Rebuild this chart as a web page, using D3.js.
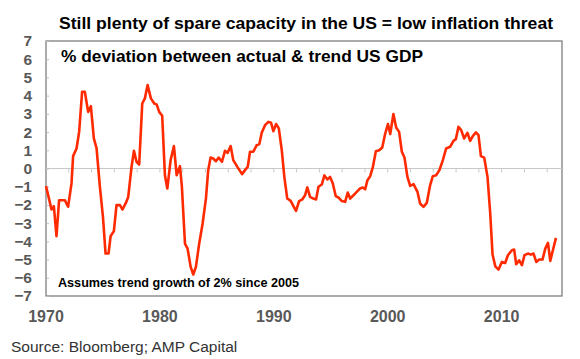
<!DOCTYPE html>
<html>
<head>
<meta charset="utf-8">
<script src="https://cdn.jsdelivr.net/npm/d3@7"></script>
<style>
  body { margin: 0; background: #fff; }
  svg { display: block; font-family: "Liberation Sans", Arial, sans-serif; }
</style>
</head>
<body>
<div id="chart"></div>
<script>
// 读图得到的数据 (年份, 偏离趋势 %)
const years = [
  1970.0, 1970.33, 1970.48, 1970.69, 1970.92, 1971.15, 1971.65, 1971.94, 1972.24, 1972.38,
  1972.68, 1972.91, 1973.17, 1973.41, 1973.7, 1973.94, 1974.2, 1974.44, 1974.73, 1975.0,
  1975.23, 1975.49, 1975.67, 1975.96, 1976.19, 1976.49, 1976.72, 1977.01, 1977.22, 1977.51,
  1977.72, 1977.95, 1978.18, 1978.45, 1978.68, 1978.92, 1979.21, 1979.5, 1979.71, 1979.94,
  1980.2, 1980.44, 1980.65, 1980.94, 1981.23, 1981.47, 1981.76, 1981.93, 1982.2, 1982.43,
  1982.7, 1982.93, 1983.16, 1983.45, 1983.75, 1984.04, 1984.24, 1984.45, 1984.68, 1984.92,
  1985.16, 1985.45, 1985.71, 1985.95, 1986.21, 1986.44, 1986.8, 1987.21, 1987.47, 1987.71,
  1987.91, 1988.2, 1988.5, 1988.73, 1988.94, 1989.23, 1989.52, 1989.76, 1989.96, 1990.2,
  1990.44, 1990.7, 1990.93, 1991.18, 1991.48, 1991.72, 1991.95, 1992.22, 1992.5, 1992.74,
  1992.94, 1993.18, 1993.47, 1993.71, 1993.92, 1994.21, 1994.44, 1994.71, 1994.94, 1995.18,
  1995.44, 1995.67, 1995.97, 1996.26, 1996.49, 1996.7, 1996.99, 1997.28, 1997.57, 1997.81,
  1998.02, 1998.22, 1998.46, 1998.7, 1998.96, 1999.25, 1999.52, 1999.78, 2000.02, 2000.22,
  2000.5, 2000.74, 2001.0, 2001.24, 2001.47, 2001.73, 2001.97, 2002.27, 2002.61, 2002.84,
  2003.14, 2003.43, 2003.72, 2003.96, 2004.25, 2004.54, 2004.84, 2005.13, 2005.48, 2005.77,
  2005.98, 2006.21, 2006.45, 2006.71, 2007.0, 2007.24, 2007.47, 2007.74, 2007.97, 2008.18,
  2008.47, 2008.76, 2009.0, 2009.2, 2009.44, 2009.73, 2010.02, 2010.31, 2010.55, 2010.9,
  2011.1, 2011.28, 2011.54, 2011.78, 2012.01, 2012.31, 2012.57, 2012.8, 2013.04, 2013.3,
  2013.59, 2013.83, 2014.07, 2014.27, 2014.5, 2014.77
];
const gapValues = [
  -0.97, -1.83, -2.25, -2.07, -3.72, -1.74, -1.74, -2.1, -0.82, 0.68,
  1.1, 2.01, 4.21, 4.21, 3.11, 3.42, 1.65, 1.1, -1.0, -2.66,
  -4.67, -4.67, -3.72, -3.44, -2.01, -2.01, -2.25, -1.89, -1.56, 0.09,
  0.97, 0.37, 0.22, 3.57, 3.85, 4.58, 3.85, 3.57, 3.52, 3.11,
  2.9, -0.37, -1.1, 0.46, 1.23, -0.37, 0.13, -1.0, -4.12, -4.4,
  -5.4, -5.82, -5.4, -4.12, -3.02, -1.65, -0.09, 0.6, 0.55, 0.4,
  0.6, 0.37, 0.97, 0.86, 1.23, 0.46, 0.09, -0.31, -0.09, 0.09,
  0.92, 0.92, 1.28, 1.34, 1.96, 2.38, 2.56, 2.51, 2.05, 2.44,
  2.2, 1.0, -0.5, -1.65, -1.78, -2.07, -2.33, -1.79, -1.7, -1.47,
  -1.04, -1.56, -1.65, -1.7, -1.0, -0.88, -0.38, -0.6, -0.46, -0.82,
  -1.52, -1.59, -1.79, -1.83, -1.32, -1.65, -1.47, -1.28, -1.1, -1.04,
  -1.14, -0.64, -0.42, 0.09, 0.95, 1.0, 1.15, 1.92, 2.44, 1.89,
  2.99, 2.25, 2.01, 0.92, 0.6, -0.46, -0.95, -0.86, -1.28, -1.92,
  -2.11, -1.89, -0.92, -0.42, -0.37, -0.09, 0.46, 1.1, 1.19, 1.52,
  1.61, 2.29, 2.11, 1.65, 1.96, 1.52, 1.78, 1.98, 1.83, 0.68,
  0.6, -0.46, -2.47, -4.71, -5.37, -5.55, -5.13, -5.19, -4.76, -4.49,
  -4.45, -5.26, -5.04, -5.31, -4.76, -4.67, -4.73, -4.67, -5.13, -5.0,
  -5.0, -4.4, -4.08, -5.07, -4.49, -3.81
];

const yTicks = d3.range(-7, 8);
const xLabels = [1970, 1980, 1990, 2000, 2010];
const minorTicks = d3.range(1972, 2015, 2);

const titleText = "Still plenty of spare capacity in the US = low inflation threat";
const subtitleText = "% deviation between actual & trend US GDP";
const noteText = "Assumes trend growth of 2% since 2005";
const sourceText = "Source: Bloomberg; AMP Capital";

const width = 580, height = 359;
const plot = { left: 46, right: 562, top: 41, bottom: 296 };

const svg = d3.select("#chart")
    .append("svg")
    .attr("width", width)
    .attr("height", height);

const x = d3.scaleLinear()
    .domain([1970, 2015.3])
    .range([plot.left, plot.right]);

const y = d3.scaleLinear()
    .domain([-7, 7])
    .range([plot.bottom, plot.top]);

// 标题
svg.append("text")
    .attr("x", 59)
    .attr("y", 29)
    .attr("textLength", 494)
    .attr("lengthAdjust", "spacingAndGlyphs")
    .style("font-size", "16.5px")
    .style("font-weight", "bold")
    .style("fill", "#000")
    .text(titleText);

// 绘图框
svg.append("rect")
    .attr("x", plot.left)
    .attr("y", plot.top)
    .attr("width", plot.right - plot.left)
    .attr("height", plot.bottom - plot.top)
    .attr("fill", "none")
    .attr("stroke", "#7f7f7f")
    .attr("stroke-width", 1.3);

// 零线
svg.append("line")
    .attr("x1", plot.left)
    .attr("x2", plot.right)
    .attr("y1", y(0))
    .attr("y2", y(0))
    .attr("stroke", "#c8c8c8")
    .attr("stroke-width", 1);

svg.selectAll(".minor-tick")
    .data(minorTicks)
    .join("line")
    .attr("class", "minor-tick")
    .attr("x1", d => x(d))
    .attr("x2", d => x(d))
    .attr("y1", y(0))
    .attr("y2", y(0) + 4)
    .attr("stroke", "#c8c8c8");

// y 轴
const yAxis = d3.axisLeft(y)
    .tickValues(yTicks)
    .tickSize(-3)
    .tickPadding(14);

const yg = svg.append("g")
    .attr("transform", `translate(${plot.left},0)`)
    .call(yAxis);
yg.select(".domain").remove();
yg.selectAll(".tick line").attr("stroke", "#bdbdbd");
yg.selectAll(".tick text")
    .style("font-size", "15.5px")
    .style("font-weight", "bold")
    .style("fill", "#595959")
    .style("font-family", "'Liberation Sans', Arial, sans-serif");

// x 轴标签
svg.selectAll(".x-label")
    .data(xLabels)
    .join("text")
    .attr("class", "x-label")
    .attr("x", d => x(d))
    .attr("y", 322)
    .attr("text-anchor", "middle")
    .style("font-size", "16px")
    .style("font-weight", "bold")
    .style("fill", "#595959")
    .text(d => d);

// 数据线
const points = years.map((yr, i) => [yr, gapValues[i]]);
const line = d3.line()
    .x(d => x(d[0]))
    .y(d => y(d[1]));

svg.append("path")
    .datum(points)
    .attr("fill", "none")
    .attr("stroke", "#ff2a00")
    .attr("stroke-width", 2.6)
    .attr("stroke-linejoin", "round")
    .attr("d", line);

// 副标题和注释
svg.append("text")
    .attr("x", 61)
    .attr("y", 62)
    .attr("textLength", 362)
    .attr("lengthAdjust", "spacingAndGlyphs")
    .style("font-size", "16.5px")
    .style("font-weight", "bold")
    .style("fill", "#000")
    .text(subtitleText);

svg.append("text")
    .attr("x", 58)
    .attr("y", 287)
    .attr("textLength", 241)
    .attr("lengthAdjust", "spacingAndGlyphs")
    .style("font-size", "12.5px")
    .style("font-weight", "bold")
    .style("fill", "#000")
    .text(noteText);

svg.append("text")
    .attr("x", 11)
    .attr("y", 352)
    .style("font-size", "15.5px")
    .style("fill", "#333")
    .text(sourceText);
</script>
</body>
</html>
